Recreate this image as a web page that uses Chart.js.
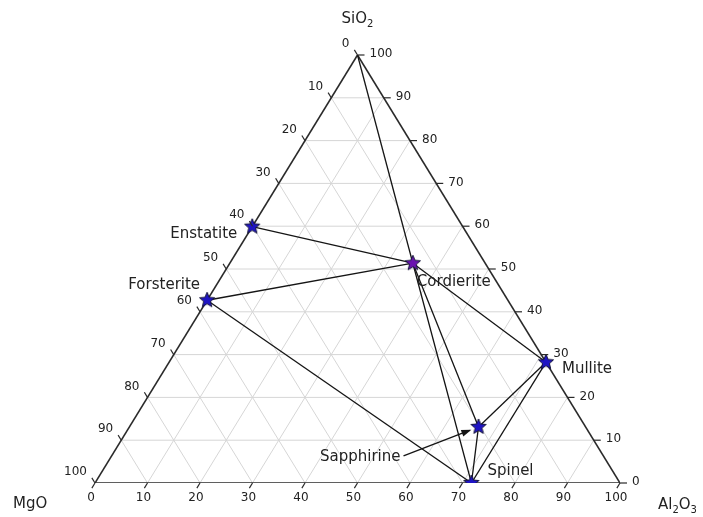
<!DOCTYPE html>
<html>
<head>
<meta charset="utf-8">
<script src="https://cdn.jsdelivr.net/npm/chart.js@4/dist/chart.umd.min.js"></script>
<style>
html,body{margin:0;padding:0;background:#fff;}
canvas{display:block;}
</style>
</head>
<body>
<canvas id="c" width="703" height="517"></canvas>
<script>
// ---- data (wt %) ----
const tickValues = [0,10,20,30,40,50,60,70,80,90,100];
const mineralNames = ['Enstatite','Forsterite','Cordierite','Mullite','Sapphirine','Spinel'];
const mineralMgO   = [40.1, 57.3, 13.8, 0.0, 20.4, 28.3];
const mineralAl2O3 = [0.0, 0.0, 34.9, 71.8, 66.5, 71.7];
const mineralSiO2  = [59.9, 42.7, 51.4, 28.2, 13.1, 0.0];
const vertexNames = ['MgO','Al2O3','SiO2'];
const tieLines = [
  ['SiO2','Cordierite'],
  ['Enstatite','Cordierite'],
  ['Forsterite','Cordierite'],
  ['Forsterite','Spinel'],
  ['Cordierite','Spinel'],
  ['Cordierite','Sapphirine'],
  ['Cordierite','Mullite'],
  ['Mullite','Sapphirine'],
  ['Mullite','Spinel'],
  ['Sapphirine','Spinel']
];

// ---- styling / label placement (not data) ----
const labelPlacement = {
  Enstatite:  {dx:-15, dy:7,  align:'right'},
  Forsterite: {dx:-7,  dy:-15, align:'right'},
  Cordierite: {dx:4,   dy:19, align:'left'},
  Mullite:    {dx:16,  dy:7,  align:'left'},
  Sapphirine: {dx:-78, dy:30, align:'right'},
  Spinel:     {dx:16,  dy:-12, align:'left'}
};
const starFill = {Cordierite:'#6a12b0'};
const defaultStarFill = '#1f14c4';

function tern(m, a, s) {
  const t = m + a + s;
  return {x: (a + s / 2) / t * 100, y: s / t * 100};
}
function compOf(name) {
  const vi = vertexNames.indexOf(name);
  if (vi >= 0) return [vi===0?100:0, vi===1?100:0, vi===2?100:0];
  const i = mineralNames.indexOf(name);
  return [mineralMgO[i], mineralAl2O3[i], mineralSiO2[i]];
}

function makeStar(fill) {
  const R = 8, r = 3.6, pad = 2;
  const c = document.createElement('canvas');
  c.width = c.height = 2 * (R + pad);
  const g = c.getContext('2d');
  g.translate(R + pad, R + pad);
  g.beginPath();
  for (let k = 0; k < 10; k++) {
    const rad = k % 2 === 0 ? R : r;
    const ang = -Math.PI / 2 + k * Math.PI / 5;
    const x = rad * Math.cos(ang), y = rad * Math.sin(ang);
    if (k === 0) g.moveTo(x, y); else g.lineTo(x, y);
  }
  g.closePath();
  g.fillStyle = fill;
  g.fill();
  g.lineWidth = 1;
  g.strokeStyle = '#14143a';
  g.stroke();
  return c;
}

const datasets = [];
// grid lines
tickValues.slice(1, -1).forEach(v => {
  const segs = [
    [tern(100 - v, 0, v), tern(0, 100 - v, v)],
    [tern(100 - v, v, 0), tern(0, v, 100 - v)],
    [tern(v, 100 - v, 0), tern(v, 0, 100 - v)]
  ];
  segs.forEach(sg => datasets.push({
    data: sg, showLine: true, pointRadius: 0, borderColor: '#d6d6d6',
    borderWidth: 1, fill: false, order: 4
  }));
});
// triangle edges
const vA = tern(100,0,0), vB = tern(0,100,0), vC = tern(0,0,100);
[[vA,vB],[vB,vC],[vC,vA]].forEach(sg => datasets.push({
  data: sg, showLine: true, pointRadius: 0, borderColor: '#2a2a2a',
  borderWidth: 1.6, fill: false, order: 3
}));
// tie lines
tieLines.forEach(([p, q]) => {
  const cp = compOf(p), cq = compOf(q);
  datasets.push({
    data: [tern(...cp), tern(...cq)], showLine: true, pointRadius: 0,
    borderColor: '#151515', borderWidth: 1.3, fill: false, order: 2
  });
});
// mineral stars
datasets.push({
  data: mineralNames.map((n, i) => tern(mineralMgO[i], mineralAl2O3[i], mineralSiO2[i])),
  showLine: false,
  pointStyle: mineralNames.map(n => makeStar(starFill[n] || defaultStarFill)),
  pointRadius: 8,
  order: 0
});

function drawChem(ctx, parts, x, y, align) {
  const big = '15px "DejaVu Sans"', small = '10px "DejaVu Sans"';
  let w = 0;
  parts.forEach(([t, sub]) => { ctx.font = sub ? small : big; w += ctx.measureText(t).width; });
  let cx = align === 'center' ? x - w / 2 : (align === 'right' ? x - w : x);
  ctx.textAlign = 'left';
  ctx.textBaseline = 'middle';
  parts.forEach(([t, sub]) => {
    ctx.font = sub ? small : big;
    ctx.fillText(t, cx, sub ? y + 5 : y);
    cx += ctx.measureText(t).width;
  });
}

const ternaryDecor = {
  id: 'ternaryDecor',
  afterDatasetsDraw(chart) {
    const ctx = chart.ctx;
    const xs = chart.scales.x, ys = chart.scales.y;
    const P = p => ({x: xs.getPixelForValue(p.x), y: ys.getPixelForValue(p.y)});
    const A = P(vA), B = P(vB), C = P(vC);
    const norm = (u) => { const l = Math.hypot(u.x, u.y); return {x: u.x / l, y: u.y / l}; };
    const dBottom = norm({x: A.x - C.x, y: A.y - C.y});
    const dLeft = norm({x: C.x - B.x, y: C.y - B.y});
    ctx.save();
    ctx.strokeStyle = '#2a2a2a';
    ctx.lineWidth = 1.2;
    ctx.fillStyle = '#222';
    ctx.font = '12px "DejaVu Sans"';
    tickValues.forEach(v => {
      // bottom axis (Al2O3)
      let p = P(tern(100 - v, v, 0));
      ctx.beginPath(); ctx.moveTo(p.x, p.y); ctx.lineTo(p.x + dBottom.x * 6, p.y + dBottom.y * 6); ctx.stroke();
      ctx.textAlign = 'center'; ctx.textBaseline = 'middle';
      ctx.fillText(String(v), p.x - 4, p.y + 15);
      // left axis (MgO)
      p = P(tern(v, 0, 100 - v));
      ctx.beginPath(); ctx.moveTo(p.x, p.y); ctx.lineTo(p.x + dLeft.x * 6, p.y + dLeft.y * 6); ctx.stroke();
      ctx.textAlign = 'right';
      ctx.fillText(String(v), p.x - 8, p.y - 11);
      // right axis (SiO2)
      p = P(tern(0, 100 - v, v));
      ctx.beginPath(); ctx.moveTo(p.x, p.y); ctx.lineTo(p.x + 7, p.y); ctx.stroke();
      ctx.textAlign = 'left';
      ctx.fillText(String(v), p.x + 12, p.y - 1);
    });
    // axis titles
    ctx.fillStyle = '#222';
    drawChem(ctx, [['SiO', false], ['2', true]], C.x, C.y - 36, 'center');
    drawChem(ctx, [['MgO', false]], A.x - 82, A.y + 21, 'left');
    drawChem(ctx, [['Al', false], ['2', true], ['O', false], ['3', true]], B.x + 38, B.y + 22, 'left');
    // mineral labels
    ctx.font = '15px "DejaVu Sans"';
    ctx.textBaseline = 'middle';
    mineralNames.forEach((n, i) => {
      const s = P(tern(mineralMgO[i], mineralAl2O3[i], mineralSiO2[i]));
      const lp = labelPlacement[n];
      ctx.textAlign = lp.align;
      ctx.fillText(n, s.x + lp.dx, s.y + lp.dy);
      if (n === 'Sapphirine') {
        const x0 = s.x + lp.dx + 3, y0 = s.y + lp.dy - 1;
        const x1 = s.x - 9, y1 = s.y + 3.5;
        ctx.beginPath(); ctx.moveTo(x0, y0); ctx.lineTo(x1, y1);
        ctx.strokeStyle = '#151515'; ctx.lineWidth = 1.3; ctx.stroke();
        const d = norm({x: x1 - x0, y: y1 - y0});
        ctx.beginPath();
        ctx.moveTo(x1 + d.x * 2, y1 + d.y * 2);
        ctx.lineTo(x1 - d.x * 8 - d.y * 3.5, y1 - d.y * 8 + d.x * 3.5);
        ctx.lineTo(x1 - d.x * 8 + d.y * 3.5, y1 - d.y * 8 - d.x * 3.5);
        ctx.closePath();
        ctx.fillStyle = '#151515'; ctx.fill();
        ctx.fillStyle = '#222';
      }
    });
    ctx.restore();
  }
};

new Chart(document.getElementById('c'), {
  type: 'scatter',
  data: {datasets},
  options: {
    responsive: false,
    animation: false,
    devicePixelRatio: 1,
    layout: {padding: {left: 95, right: 83, top: 55, bottom: 34}},
    scales: {
      x: {type: 'linear', min: 0, max: 100, display: false},
      y: {type: 'linear', min: 0, max: 100, display: false}
    },
    plugins: {legend: {display: false}, tooltip: {enabled: false}},
    events: []
  },
  plugins: [ternaryDecor]
});
</script>
</body>
</html>
